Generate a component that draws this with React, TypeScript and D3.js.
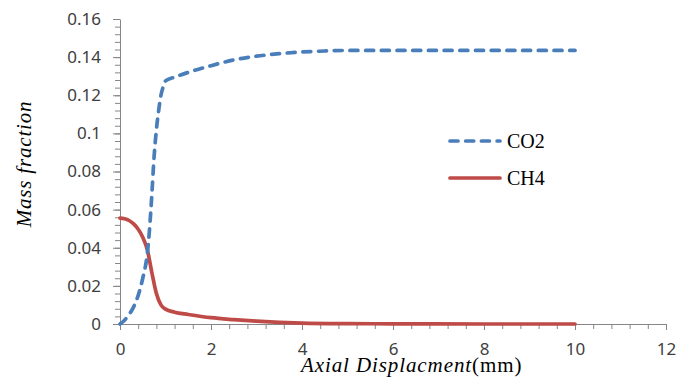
import React, { useRef, useEffect } from "react";
import * as d3 from "d3";

// values
const xCO2 = [0, 0.1, 0.2, 0.3, 0.4, 0.5, 0.6, 0.65, 0.7, 0.75, 0.8, 0.85, 0.9, 0.95, 1.0, 1.2, 1.5, 2, 2.5, 3, 3.5, 4, 4.5, 5, 6, 7, 8, 9, 10];
const yCO2 = [0, 0.002, 0.005, 0.009, 0.015, 0.024, 0.037, 0.05, 0.068, 0.088, 0.102, 0.112, 0.12, 0.1245, 0.1275, 0.1295, 0.132, 0.1355, 0.1385, 0.1405, 0.1418, 0.1427, 0.1432, 0.1435, 0.1435, 0.1435, 0.1435, 0.1435, 0.1435];
const xCH4 = [0, 0.1, 0.2, 0.3, 0.4, 0.5, 0.6, 0.7, 0.8, 0.9, 1.0, 1.2, 1.5, 2, 2.5, 3, 3.5, 4, 5, 6, 8, 10];
const yCH4 = [0.0555, 0.0552, 0.0543, 0.0525, 0.0497, 0.0455, 0.039, 0.027, 0.016, 0.01, 0.0078, 0.0062, 0.005, 0.0033, 0.0023, 0.0015, 0.0009, 0.0005, 0.0002, 0.0001, 0, 0];
const yTicks = [0, 0.02, 0.04, 0.06, 0.08, 0.1, 0.12, 0.14, 0.16];
const yTickLabels = ["0", "0.02", "0.04", "0.06", "0.08", "0.1", "0.12", "0.14", "0.16"];
const xTicks = [0, 2, 4, 6, 8, 10, 12];
const seriesNames = ["CO2", "CH4"];

const blue = "#4a7ebb";
const red = "#be4b48";
const axisGray = "#868686";
const dash = "8 7.7";

export default function App() {
  const svgRef = useRef<SVGSVGElement>(null);

  useEffect(() => {
    const svg = d3.select(svgRef.current);
    svg.selectAll("*").remove();

    const x = d3.scaleLinear().domain([0, 12]).range([120, 666]);
    const y = d3.scaleLinear().domain([0, 0.16]).range([324, 19]);

    const g = svg.append("g");

    // minor ticks
    const yMinor = d3.range(0, 0.1601, 0.004);
    g.append("g")
      .attr("transform", `translate(${x(0)},0)`)
      .call(d3.axisLeft(y).tickValues(yMinor).tickSize(5).tickFormat(() => ""))
      .call((a) => a.select(".domain").remove())
      .selectAll("line").attr("stroke", axisGray);
    const xMinor = d3.range(0, 12.01, 0.4);
    g.append("g")
      .attr("transform", `translate(0,${y(0)})`)
      .call(d3.axisBottom(x).tickValues(xMinor).tickSize(5).tickFormat(() => ""))
      .call((a) => a.select(".domain").remove())
      .selectAll("line").attr("stroke", axisGray);

    // Y axis
    const ya = g.append("g")
      .attr("transform", `translate(${x(0)},0)`)
      .call(d3.axisLeft(y).tickValues(yTicks).tickSize(7).tickSizeOuter(0).tickPadding(12)
        .tickFormat((d, i) => yTickLabels[i]));
    ya.select(".domain").attr("stroke", axisGray);
    ya.selectAll("line").attr("stroke", axisGray);
    ya.selectAll("text")
      .attr("fill", "#404040")
      .attr("font-size", "17px")
      .attr("font-family", "'Noto Sans', sans-serif");

    // X axis
    const xa = g.append("g")
      .attr("transform", `translate(0,${y(0)})`)
      .call(d3.axisBottom(x).tickValues(xTicks).tickSize(6).tickSizeOuter(0).tickPadding(13)
        .tickFormat((d) => String(d)));
    xa.select(".domain").attr("stroke", axisGray);
    xa.selectAll("line").attr("stroke", axisGray);
    xa.selectAll("text")
      .attr("fill", "#404040")
      .attr("font-size", "17px")
      .attr("font-family", "'Noto Sans', sans-serif");

    const line = d3.line<number>().curve(d3.curveMonotoneX);

    g.append("path")
      .attr("d", line.x((d, i) => x(xCH4[i])).y((d) => y(d))(yCH4))
      .attr("fill", "none")
      .attr("stroke", red)
      .attr("stroke-width", 3.7)
      .attr("stroke-linecap", "round");

    g.append("path")
      .attr("d", line.x((d, i) => x(xCO2[i])).y((d) => y(d))(yCO2))
      .attr("fill", "none")
      .attr("stroke", blue)
      .attr("stroke-width", 3.7)
      .attr("stroke-dasharray", dash)
      .attr("stroke-linecap", "round");

    // legend
    const legend = g.append("g");
    [blue, red].forEach((c, i) => {
      const ly = 141 + i * 37;
      legend.append("line")
        .attr("x1", 450).attr("x2", 500).attr("y1", ly).attr("y2", ly)
        .attr("stroke", c).attr("stroke-width", 3.7)
        .attr("stroke-linecap", "round")
        .attr("stroke-dasharray", i === 0 ? dash : null);
      legend.append("text")
        .attr("x", 507).attr("y", ly + 7)
        .attr("font-family", "'Liberation Serif', serif")
        .attr("font-size", "20px")
        .attr("fill", "#000")
        .text(seriesNames[i]);
    });

    // axis titles
    const xt = g.append("text")
      .attr("x", 301).attr("y", 372)
      .attr("font-family", "'Liberation Serif', serif")
      .attr("font-size", "21px")
      .attr("letter-spacing", "0.9px")
      .attr("fill", "#000");
    xt.append("tspan").attr("font-style", "italic").text("Axial Displacment");
    xt.append("tspan").text("(mm)");

    g.append("text")
      .attr("transform", "translate(31,164) rotate(-90)")
      .attr("text-anchor", "middle")
      .attr("font-family", "'Liberation Serif', serif")
      .attr("font-style", "italic")
      .attr("font-size", "21px")
      .attr("letter-spacing", "0.8px")
      .attr("fill", "#000")
      .text("Mass fraction");
  }, []);

  return (
    <svg
      ref={svgRef}
      width={693}
      height={381}
      style={{ position: "absolute", left: 0, top: 0, background: "#fff" }}
    />
  );
}
